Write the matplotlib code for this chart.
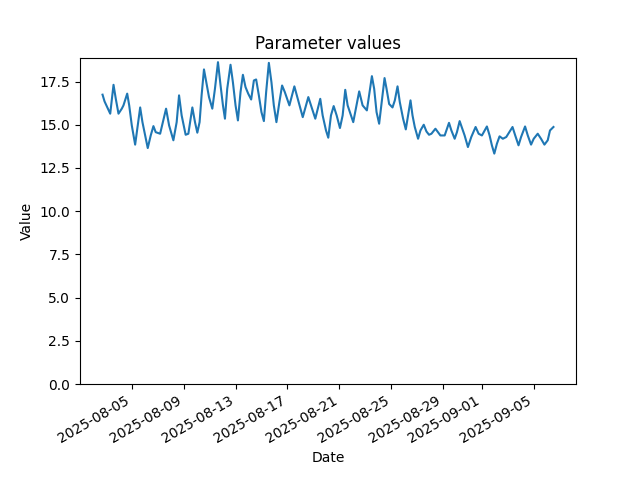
import numpy as np
import pandas as pd
import matplotlib
matplotlib.use("Agg")
import matplotlib.pyplot as plt

# hours after 2025-08-05 00:00
hours = [-54.0, -50.3, -44.2, -39.8, -33.7, -29.5, -24.5, -18.4, -15.3, -8.4,
         -4.7, 0.1, 6.3, 15.6, 19.8, 24.8, 29.6, 35.1, 40.1, 44.3,
         52.5, 63.5, 69.1, 77.0, 83.1, 87.5, 92.3, 99.7, 104.7, 112.1,
         117.0, 121.3, 125.5, 129.2, 133.6, 137.9, 142.9, 149.0, 153.9, 159.5,
         164.3, 168.7, 172.4, 176.6, 182.7, 187.1, 192.0, 196.4, 201.2, 205.6,
         210.4, 215.4, 220.9, 225.9, 230.1, 235.1, 239.9, 244.4, 248.6, 253.6,
         258.4, 262.8, 267.6, 273.1, 278.1, 283.1, 291.6, 300.8, 307.1, 316.3,
         326.6, 331.6, 339.5, 348.7, 353.1, 359.3, 363.5, 368.5, 373.5, 379.0,
         385.1, 390.1, 394.9, 399.3, 409.7, 420.7, 427.0, 434.9, 444.2, 448.4,
         452.8, 457.6, 463.9, 467.6, 471.3, 476.1, 482.3, 486.6, 491.6, 495.8,
         501.9, 506.9, 511.1, 515.6, 519.3, 523.5, 529.6, 534.0, 540.1, 545.1,
         549.9, 554.3, 561.7, 566.5, 570.9, 578.8, 586.8, 591.2, 597.3, 601.5,
         606.5, 615.7, 621.8, 628.0, 636.0, 641.6, 647.7, 656.9, 661.9, 666.1,
         670.6, 675.4, 680.3, 686.4, 692.7, 704.3, 709.3, 715.4, 720.1, 727.5,
         732.5, 738.6, 743.5, 750.9, 757.0, 763.3, 769.4, 773.6, 780.0]
values = [16.74, 16.35, 15.93, 15.64, 17.31, 16.50, 15.64, 15.93, 16.12, 16.80,
          16.12, 14.96, 13.85, 16.00, 15.15, 14.38, 13.65, 14.38, 14.92, 14.57,
          14.48, 15.93, 14.96, 14.10, 15.15, 16.70, 15.54, 14.42, 14.48, 16.00,
          15.15, 14.54, 15.15, 16.70, 18.20, 17.46, 16.60, 15.93, 17.08, 18.62,
          17.27, 16.12, 15.35, 17.08, 18.47, 17.46, 16.12, 15.25, 16.89, 17.89,
          17.18, 16.80, 16.46, 17.56, 17.62, 16.70, 15.73, 15.21, 16.89, 18.58,
          17.46, 16.12, 15.15, 16.31, 17.27, 16.89, 16.12, 17.22, 16.50, 15.44,
          16.60, 16.12, 15.35, 16.50, 15.54, 14.67, 14.25, 15.54, 16.08, 15.54,
          14.81, 15.54, 17.02, 16.12, 15.15, 16.93, 16.12, 15.83, 17.81, 17.08,
          15.73, 15.06, 16.70, 17.70, 17.08, 16.20, 16.00, 16.41, 17.22, 16.31,
          15.35, 14.73, 15.54, 16.41, 15.54, 14.87, 14.19, 14.67, 15.00, 14.61,
          14.42, 14.48, 14.77, 14.57, 14.38, 14.38, 15.11, 14.67, 14.19, 14.57,
          15.21, 14.38, 13.71, 14.29, 14.87, 14.48, 14.38, 14.90, 14.38, 13.81,
          13.33, 13.90, 14.33, 14.19, 14.29, 14.87, 14.38, 13.81, 14.29, 14.90,
          14.38, 13.85, 14.19, 14.48, 14.19, 13.85, 14.10, 14.67, 14.87]

dates = pd.Timestamp("2025-08-05") + pd.to_timedelta(hours, unit="h")

fig, ax = plt.subplots(figsize=(6.4, 4.8), dpi=100)
ax.plot(dates, values)
ax.set_ylim(bottom=0)
ax.set_title("Parameter values")
ax.set_xlabel("Date")
ax.set_ylabel("Value")
fig.autofmt_xdate()
fig.savefig("out.png")
plt.close(fig)
